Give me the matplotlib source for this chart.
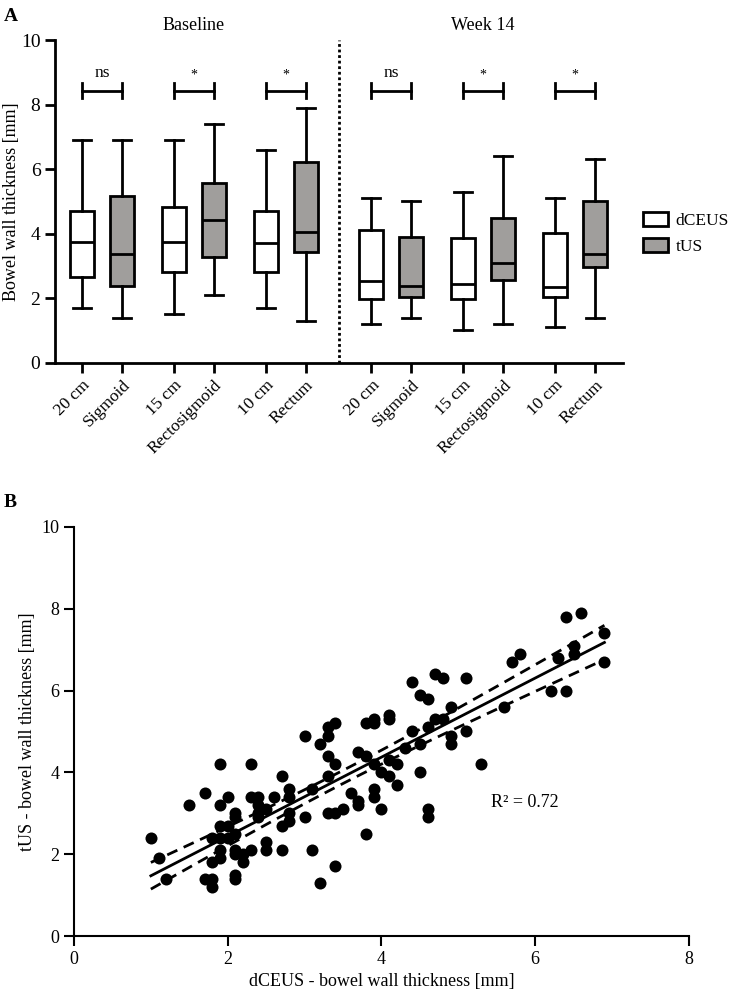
import matplotlib.pyplot as plt
import numpy as np
from matplotlib.patches import Patch

plt.rcParams['font.family'] = ['Liberation Serif', 'DejaVu Serif']

# ---- panel A data (box stats) ----
tick_labels = ["20 cm", "Sigmoid", "15 cm", "Rectosigmoid", "10 cm", "Rectum"] * 2
whis_lo = [1.7, 1.4, 1.5, 2.1, 1.7, 1.3, 1.2, 1.4, 1.0, 1.2, 1.1, 1.4]
q1 = [2.67, 2.39, 2.80, 3.29, 2.82, 3.43, 1.96, 2.05, 1.98, 2.56, 2.05, 2.96]
med = [3.75, 3.36, 3.75, 4.42, 3.70, 4.04, 2.53, 2.39, 2.44, 3.08, 2.36, 3.38]
q3 = [4.70, 5.17, 4.81, 5.56, 4.70, 6.22, 4.11, 3.88, 3.85, 4.49, 4.02, 5.01]
whis_hi = [6.9, 6.9, 6.9, 7.4, 6.6, 7.9, 5.1, 5.0, 5.3, 6.4, 5.1, 6.3]
sig = ["ns", "*", "*", "ns", "*", "*"]
groups = ["Baseline", "Week 14"]

# ---- panel B data ----
dceus = [1.0, 1.1, 1.2, 1.5, 1.7, 1.7, 1.8, 1.8, 1.8, 1.8, 1.9, 1.9, 1.9, 1.9, 1.9, 1.9,
         2.0, 2.0, 2.0, 2.1, 2.1, 2.1, 2.1, 2.1, 2.1, 2.1, 2.2, 2.2, 2.3, 2.3, 2.3,
         2.4, 2.4, 2.4, 2.4, 2.5, 2.5, 2.5, 2.6, 2.7, 2.7, 2.7, 2.8, 2.8, 2.8, 2.8,
         3.0, 3.0, 3.1, 3.1, 3.2, 3.2, 3.3, 3.3, 3.3, 3.3, 3.3, 3.4, 3.4, 3.4, 3.4,
         3.5, 3.6, 3.7, 3.7, 3.7, 3.8, 3.8, 3.8, 3.9, 3.9, 3.9, 3.9, 3.9, 4.0, 4.0,
         4.1, 4.1, 4.1, 4.1, 4.2, 4.2, 4.3, 4.4, 4.4, 4.5, 4.5, 4.5, 4.6, 4.6, 4.6, 4.6,
         4.7, 4.7, 4.8, 4.8, 4.9, 4.9, 4.9, 5.1, 5.1, 5.3, 5.6, 5.7, 5.8, 6.2, 6.3,
         6.4, 6.4, 6.5, 6.5, 6.6, 6.9, 6.9]
tus = [2.4, 1.9, 1.4, 3.2, 3.5, 1.4, 1.4, 1.2, 1.8, 2.4, 4.2, 3.2, 2.7, 2.4, 2.1, 1.9,
       3.4, 2.7, 2.4, 3.0, 2.9, 2.5, 2.1, 2.0, 1.5, 1.4, 2.0, 1.8, 4.2, 3.4, 2.1,
       3.4, 3.2, 3.0, 2.9, 3.1, 2.3, 2.1, 3.4, 3.9, 2.7, 2.1, 3.6, 3.4, 3.0, 2.8,
       4.9, 2.9, 3.6, 2.1, 4.7, 1.3, 5.1, 4.9, 4.4, 3.9, 3.0, 5.2, 4.2, 3.0, 1.7,
       3.1, 3.5, 4.5, 3.3, 3.2, 5.2, 4.4, 2.5, 5.3, 5.2, 4.2, 3.6, 3.4, 4.0, 3.1,
       5.4, 5.3, 4.3, 3.9, 4.2, 3.7, 4.6, 6.2, 5.0, 5.9, 4.7, 4.0, 5.8, 5.1, 3.1, 2.9,
       6.4, 5.3, 6.3, 5.3, 5.6, 4.9, 4.7, 6.3, 5.0, 4.2, 5.6, 6.7, 6.9, 6.0, 6.8,
       6.0, 7.8, 7.1, 6.9, 7.9, 7.4, 6.7]

fig = plt.figure(figsize=(7.29, 9.98), dpi=100)

# ================= panel A =================
ax = fig.add_axes([0.0754, 0.6366, 0.779, 0.3233])
pos = [0, 1, 2.3, 3.3, 4.6, 5.6, 7.25, 8.25, 9.55, 10.55, 11.85, 12.85]
stats = []
for i in range(12):
    stats.append(dict(med=med[i], q1=q1[i], q3=q3[i], whislo=whis_lo[i], whishi=whis_hi[i], fliers=[]))
bp = ax.bxp(stats, positions=pos, widths=0.6, patch_artist=True, showfliers=False,
            capwidths=0.45,
            boxprops=dict(linewidth=2, edgecolor='black'),
            medianprops=dict(color='black', linewidth=2),
            whiskerprops=dict(linewidth=2), capprops=dict(linewidth=2))
for i, b in enumerate(bp['boxes']):
    b.set_facecolor('white' if i % 2 == 0 else '#a09e9c')

ax.set_xlim(-0.68, 13.55)
ax.set_ylim(0, 10)
ax.set_yticks(np.arange(0, 11, 2))
ax.set_xticks(pos)
ax.set_xticklabels(tick_labels, rotation=45, ha='right', rotation_mode='anchor', fontsize=12.5)
ax.tick_params(axis='both', width=2, length=7, labelsize=14)
ax.tick_params(axis='x', labelsize=12.5)
for s in ['top', 'right']:
    ax.spines[s].set_visible(False)
for s in ['left', 'bottom']:
    ax.spines[s].set_linewidth(2)
ax.set_ylabel("Bowel wall thickness [mm]", fontsize=13)
ax.yaxis.set_label_coords(-0.062, 0.5)
ax.axvline(6.43, ymin=0, ymax=1, color='black', linestyle=(0, (1, 1)), linewidth=2)

for k in range(6):
    x0, x1 = pos[2 * k], pos[2 * k + 1]
    ax.plot([x0, x1], [8.43, 8.43], color='black', lw=2)
    ax.plot([x0, x0], [8.2, 8.66], color='black', lw=2)
    ax.plot([x1, x1], [8.2, 8.66], color='black', lw=2)
    if sig[k] == "ns":
        ax.text((x0 + x1) / 2, 8.72, sig[k], ha='center', va='bottom', fontsize=12.5)
    else:
        ax.text((x0 + x1) / 2, 8.7, sig[k], ha='center', va='bottom', fontsize=10)

ax.text((pos[0] + pos[5]) / 2, 10.45, groups[0], ha='center', va='center', fontsize=13)
ax.text((pos[6] + pos[11]) / 2, 10.45, groups[1], ha='center', va='center', fontsize=13)

handles = [Patch(facecolor='white', edgecolor='black', linewidth=2, label='dCEUS'),
           Patch(facecolor='#a09e9c', edgecolor='black', linewidth=2, label='tUS')]
fig.legend(handles=handles, loc='center left', bbox_to_anchor=(0.872, 0.766), frameon=False,
           fontsize=12.5, handlelength=1.45, handleheight=0.85, handletextpad=0.45, labelspacing=0.55,
           borderpad=0.2, borderaxespad=0.2)

fig.text(0.005, 0.992, "A", fontsize=14, fontweight='bold', va='top')

# ================= panel B =================
ax2 = fig.add_axes([0.1015, 0.0621, 0.8436, 0.41])
x = np.array(dceus)
y = np.array(tus)
ax2.scatter(x, y, s=75, color='black', zorder=3, linewidths=0)

slope, icpt = np.polyfit(x, y, 1)
xs = np.linspace(x.min(), x.max(), 100)
ys = slope * xs + icpt
n = len(x)
resid = y - (slope * x + icpt)
se = np.sqrt(np.sum(resid ** 2) / (n - 2))
ci = 1.98 * se * np.sqrt(1 / n + (xs - x.mean()) ** 2 / np.sum((x - x.mean()) ** 2))
ax2.plot(xs, ys, color='black', lw=2)
ax2.plot(xs, ys + ci, color='black', lw=2, linestyle=(0, (4, 2.5)))
ax2.plot(xs, ys - ci, color='black', lw=2, linestyle=(0, (4, 2.5)))
ax2.text(5.42, 3.27, "R² = 0.72", fontsize=13, va='center', ha='left')

ax2.set_xlim(0, 8)
ax2.set_ylim(0, 10)
ax2.set_xticks(np.arange(0, 9, 2))
ax2.set_yticks(np.arange(0, 11, 2))
ax2.tick_params(axis='both', width=1.5, length=7, labelsize=13)
for s in ['top', 'right']:
    ax2.spines[s].set_visible(False)
for s in ['left', 'bottom']:
    ax2.spines[s].set_linewidth(1.5)
ax2.set_xlabel("dCEUS - bowel wall thickness [mm]", fontsize=13)
ax2.set_ylabel("tUS - bowel wall thickness [mm]", fontsize=13)

fig.text(0.005, 0.505, "B", fontsize=14, fontweight='bold', va='top')

plt.savefig("out.png", dpi=100)
